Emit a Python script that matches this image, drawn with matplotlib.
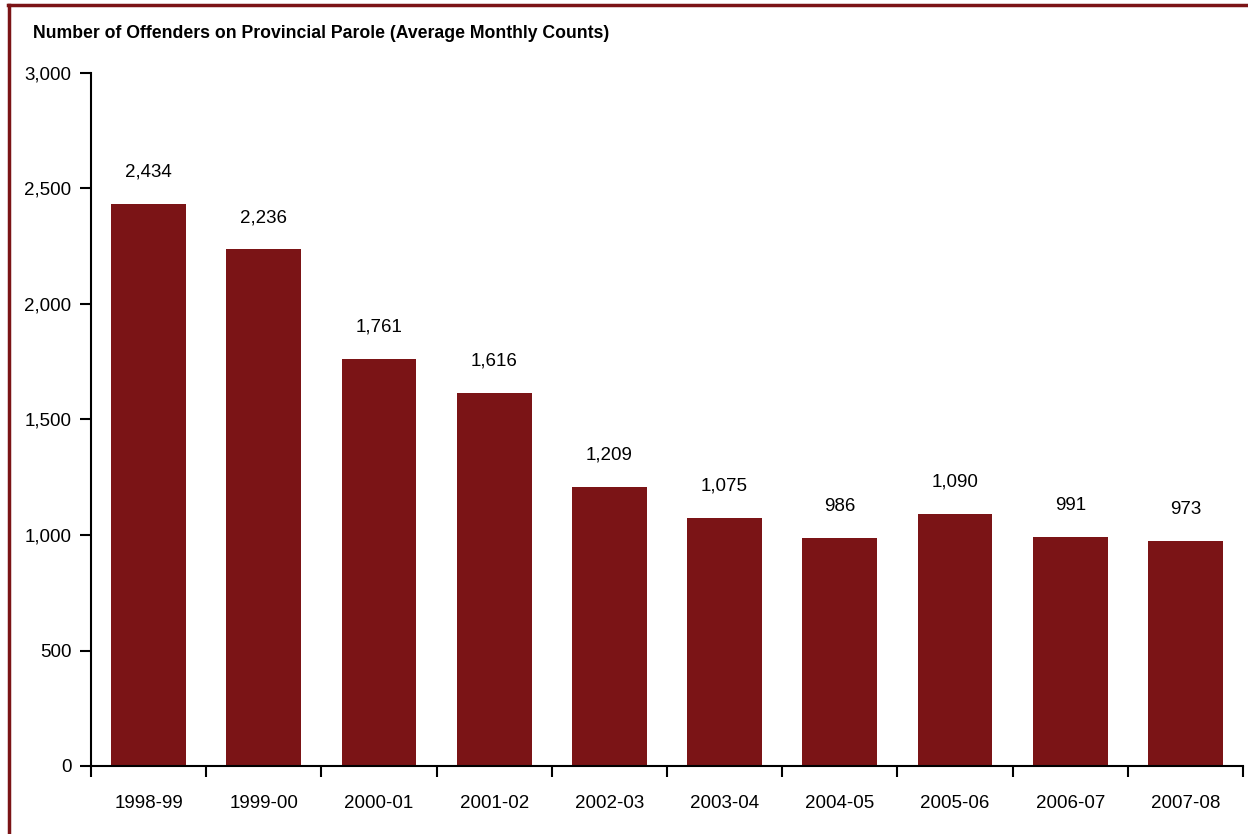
import matplotlib.pyplot as plt
from matplotlib.lines import Line2D
from matplotlib.ticker import FuncFormatter, FixedLocator

years = ['1998-99', '1999-00', '2000-01', '2001-02', '2002-03',
         '2003-04', '2004-05', '2005-06', '2006-07', '2007-08']
offenders = [2434, 2236, 1761, 1616, 1209, 1075, 986, 1090, 991, 973]

plt.rcParams['font.family'] = ['Liberation Sans', 'DejaVu Sans']
maroon = '#7B1416'

fig = plt.figure(figsize=(12.48, 8.34), dpi=100)
ax = fig.add_axes([91 / 1248, 68 / 834, (1243 - 91) / 1248, (766 - 73) / 834])

x = list(range(len(years)))
ax.bar(x, offenders, width=0.65, color=maroon, zorder=2)
for xi, v in zip(x, offenders):
    ax.annotate(f'{v:,}', (xi, v), xytext=(0, 23), textcoords='offset points',
                ha='center', va='center', fontsize=13.5)

ax.set_xlim(-0.5, len(years) - 0.5)
ax.set_ylim(0, 3000)
ax.set_yticks(range(0, 3001, 500))
ax.yaxis.set_major_formatter(FuncFormatter(lambda v, p: f'{int(v):,}'))
ax.set_xticks(x)
ax.set_xticklabels(years)
ax.xaxis.set_minor_locator(FixedLocator([i - 0.5 for i in range(len(years) + 1)]))
ax.tick_params(axis='x', which='major', length=0, pad=21, labelsize=13.5)
ax.tick_params(axis='x', which='minor', length=8, width=1.5, direction='out')
ax.tick_params(axis='y', length=8, width=1.5, direction='out', labelsize=13.5, pad=6)

for s in ['top', 'right']:
    ax.spines[s].set_visible(False)
for s in ['left', 'bottom']:
    ax.spines[s].set_linewidth(1.5)

fig.text(33 / 1248, 1 - 34 / 834, 'Number of Offenders on Provincial Parole (Average Monthly Counts)',
         fontsize=12.7, fontweight='bold', ha='left', va='center')

# frame lines at top and left
fig.add_artist(Line2D([8 / 1248, 1], [1 - 5 / 834, 1 - 5 / 834], color=maroon, lw=2.5,
                      transform=fig.transFigure))
fig.add_artist(Line2D([9 / 1248, 9 / 1248], [0, 1 - 5 / 834], color=maroon, lw=2.5,
                      transform=fig.transFigure))

fig.savefig('out.png', dpi=100)
